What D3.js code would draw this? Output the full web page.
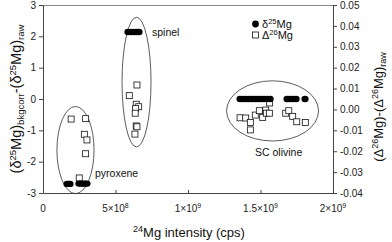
<!DOCTYPE html>
<html>
<head>
<meta charset="utf-8">
<script src="https://cdn.jsdelivr.net/npm/d3@7"></script>
<style>
  body { margin: 0; background: #fff; }
  svg { font-family: "Liberation Sans", Arial, sans-serif; }
</style>
</head>
<body>
<svg id="chart" width="392" height="242"></svg>
<script>
// delta25 (filled circles, left axis)
var d25Intensity = [1.66e8, 1.76e8, 1.86e8, 2.48e8, 2.62e8, 2.76e8, 2.9e8, 3.03e8,
  5.86e8, 6.07e8, 6.28e8, 6.48e8, 6.62e8,
  1.359e9, 1.379e9, 1.40e9, 1.421e9, 1.441e9, 1.462e9, 1.483e9, 1.503e9, 1.524e9, 1.545e9, 1.566e9,
  1.683e9, 1.703e9, 1.724e9, 1.745e9, 1.807e9];
var d25Values = [-2.71, -2.71, -2.71, -2.7, -2.7, -2.7, -2.7, -2.7,
  2.14, 2.14, 2.14, 2.14, 2.14,
  0, 0, 0, 0, 0, 0, 0, 0, 0, 0, 0,
  0, 0, 0, 0, 0];

// Delta26 (open squares, right axis)
var D26Intensity = [1.94e8, 2.94e8, 2.85e8, 3.03e8, 2.94e8, 2.50e8,
  6.48e8, 5.95e8, 6.43e8, 6.60e8, 6.39e8, 6.36e8, 6.43e8, 6.48e8, 6.34e8,
  1.359e9, 1.398e9, 1.430e9, 1.430e9, 1.464e9, 1.492e9, 1.515e9, 1.536e9, 1.540e9, 1.561e9, 1.563e9,
  1.674e9, 1.695e9, 1.722e9, 1.750e9, 1.809e9];
var D26Values = [-0.0046, -0.0044, -0.0119, -0.0146, -0.0212, -0.0328,
  0.0117, 0.0066, 0.0025, 0.0013, 0.0004, -0.0018, -0.0079, -0.0083, -0.0118,
  -0.0040, -0.0041, -0.0062, -0.0098, -0.0027, -0.0006, -0.0038, -0.0003, -0.0018, -0.0018, 0.0031,
  -0.0018, -0.0006, -0.0033, -0.0059, -0.0062];

// group ellipses (data units: centre intensity, centre delta25, half-widths)
var groupNames = ["pyroxene", "spinel", "SC olivine"];
var groupCx = [2.24e8, 6.45e8, 1.583e9];
var groupCy = [-1.63, 0.54, -0.38];
var groupRx = [1.28e8, 1.0e8, 3.17e8];
var groupRy = [1.39, 2.07, 0.96];

var xTicks = [0, 5e8, 1e9, 1.5e9, 2e9];
var xTickLabels = [["0", ""], ["5\u00d710", "8"], ["1\u00d710", "9"], ["1.5\u00d710", "9"], ["2\u00d710", "9"]];
var leftTicks = [-3, -2, -1, 0, 1, 2, 3];
var rightTicks = [-0.04, -0.03, -0.02, -0.01, 0, 0.01, 0.02, 0.03, 0.04, 0.05];

var svg = d3.select("#chart");
var pLeft = 43, pRight = 333, pTop = 5, pBottom = 193;

var x = d3.scaleLinear().domain([0, 2e9]).range([pLeft, pRight]);
var yL = d3.scaleLinear().domain([-3, 3]).range([pBottom, pTop]);
var yR = d3.scaleLinear().domain([-0.04, 0.05]).range([pBottom, pTop]);

// frame top line
svg.append("line")
  .attr("x1", pLeft).attr("x2", pRight).attr("y1", pTop + 0.5).attr("y2", pTop + 0.5)
  .attr("stroke", "#888").attr("stroke-width", 1);

// axes
var xAxis = svg.append("g")
  .attr("transform", `translate(0,${pBottom})`)
  .call(d3.axisBottom(x).tickValues(xTicks).tickSize(-3).tickSizeOuter(0).tickFormat(""));
var leftAxis = svg.append("g")
  .attr("transform", `translate(${pLeft},0)`)
  .call(d3.axisLeft(yL).tickValues(leftTicks).tickSize(4).tickSizeOuter(0).tickFormat(d => String(d)));
var rightAxis = svg.append("g")
  .attr("transform", `translate(${pRight},0)`)
  .call(d3.axisRight(yR).tickValues(rightTicks).tickSize(4).tickSizeOuter(0).tickFormat(d => d3.format(".2f")(d).replace("\u2212", "-")));

[xAxis, leftAxis, rightAxis].forEach(function(a) {
  a.select(".domain").attr("stroke", "#444");
  a.selectAll(".tick line").attr("stroke", "#444");
  a.selectAll("text").attr("font-size", 10).attr("font-family", "Liberation Sans, Arial, sans-serif").attr("fill", "#222");
});
leftAxis.selectAll("text").attr("x", -7);
rightAxis.selectAll("text").attr("x", 7);

// x tick labels with superscripts
var xl = svg.append("g");
xTicks.forEach(function(t, i) {
  var txt = xl.append("text")
    .attr("x", x(t)).attr("y", 212)
    .attr("text-anchor", "middle")
    .attr("font-size", 10).attr("fill", "#222");
  txt.append("tspan").text(xTickLabels[i][0]);
  if (xTickLabels[i][1]) {
    txt.append("tspan").attr("dy", -4).attr("font-size", 7).text(xTickLabels[i][1]);
  }
});

// ellipses
svg.append("g").selectAll("ellipse")
  .data(groupNames)
  .enter().append("ellipse")
  .attr("cx", (d, i) => x(groupCx[i]))
  .attr("cy", (d, i) => yL(groupCy[i]))
  .attr("rx", (d, i) => x(groupRx[i]) - x(0))
  .attr("ry", (d, i) => yL(0) - yL(groupRy[i]))
  .attr("fill", "none").attr("stroke", "#333").attr("stroke-width", 0.8);

// squares
svg.append("g").selectAll("rect")
  .data(D26Values)
  .enter().append("rect")
  .attr("x", (d, i) => x(D26Intensity[i]) - 3)
  .attr("y", d => yR(d) - 3)
  .attr("width", 6).attr("height", 6)
  .attr("fill", "#fff").attr("stroke", "#111").attr("stroke-width", 0.8);

// circles
svg.append("g").selectAll("ellipse")
  .data(d25Values)
  .enter().append("ellipse")
  .attr("cx", (d, i) => x(d25Intensity[i]))
  .attr("cy", d => yL(d))
  .attr("rx", 3.6).attr("ry", 3.2)
  .attr("fill", "#000");

// group labels
var lab = svg.append("g").attr("font-size", 10.5).attr("fill", "#111");
lab.append("text").attr("x", 152).attr("y", 36).text(groupNames[1]);
lab.append("text").attr("x", 95).attr("y", 177).text(groupNames[0]);
lab.append("text").attr("x", 255).attr("y", 156).text(groupNames[2]);

// legend
var leg = svg.append("g").attr("font-size", 11).attr("fill", "#111");
leg.append("circle").attr("cx", 255.5).attr("cy", 24).attr("r", 3.4).attr("fill", "#000");
leg.append("rect").attr("x", 252.5).attr("y", 32).attr("width", 6).attr("height", 6)
  .attr("fill", "#fff").attr("stroke", "#111").attr("stroke-width", 0.8);
var l1 = leg.append("text").attr("x", 262).attr("y", 28);
l1.append("tspan").text("\u03b4");
l1.append("tspan").attr("dy", -4).attr("font-size", 7.5).text("25");
l1.append("tspan").attr("dy", 4).text("Mg");
var l2 = leg.append("text").attr("x", 262).attr("y", 39);
l2.append("tspan").text("\u0394");
l2.append("tspan").attr("dy", -4).attr("font-size", 7.5).text("26");
l2.append("tspan").attr("dy", 4).text("Mg");

// x axis title
var xt = svg.append("text").attr("x", 189).attr("y", 237)
  .attr("text-anchor", "middle").attr("font-size", 13).attr("fill", "#111");
xt.append("tspan").attr("font-size", 9).attr("dy", -5).text("24");
xt.append("tspan").attr("dy", 5).text("Mg intensity (cps)");

// left axis title
var yt = svg.append("text")
  .attr("transform", "translate(21,99) rotate(-90)")
  .attr("text-anchor", "middle").attr("font-size", 14.5).attr("fill", "#111");
yt.append("tspan").text("(\u03b4");
yt.append("tspan").attr("font-size", 9.5).attr("dy", -5).text("25");
yt.append("tspan").attr("dy", 5).text("Mg)");
yt.append("tspan").attr("font-size", 9.5).attr("dy", 3).text("bkgcorr");
yt.append("tspan").attr("dy", -3).text("-(\u03b4");
yt.append("tspan").attr("font-size", 9.5).attr("dy", -5).text("25");
yt.append("tspan").attr("dy", 5).text("Mg)");
yt.append("tspan").attr("font-size", 9.5).attr("dy", 3).text("raw");

// right axis title
var rt = svg.append("text")
  .attr("transform", "translate(383,107) rotate(-90)")
  .attr("text-anchor", "middle").attr("font-size", 13).attr("fill", "#111");
rt.append("tspan").text("(\u0394");
rt.append("tspan").attr("font-size", 9).attr("dy", -5).text("26");
rt.append("tspan").attr("dy", 5).text("Mg)-(\u0394");
rt.append("tspan").attr("font-size", 9).attr("dy", -5).text("26");
rt.append("tspan").attr("dy", 5).text("Mg)");
rt.append("tspan").attr("font-size", 9).attr("dy", 3).text("raw");
</script>
</body>
</html>
